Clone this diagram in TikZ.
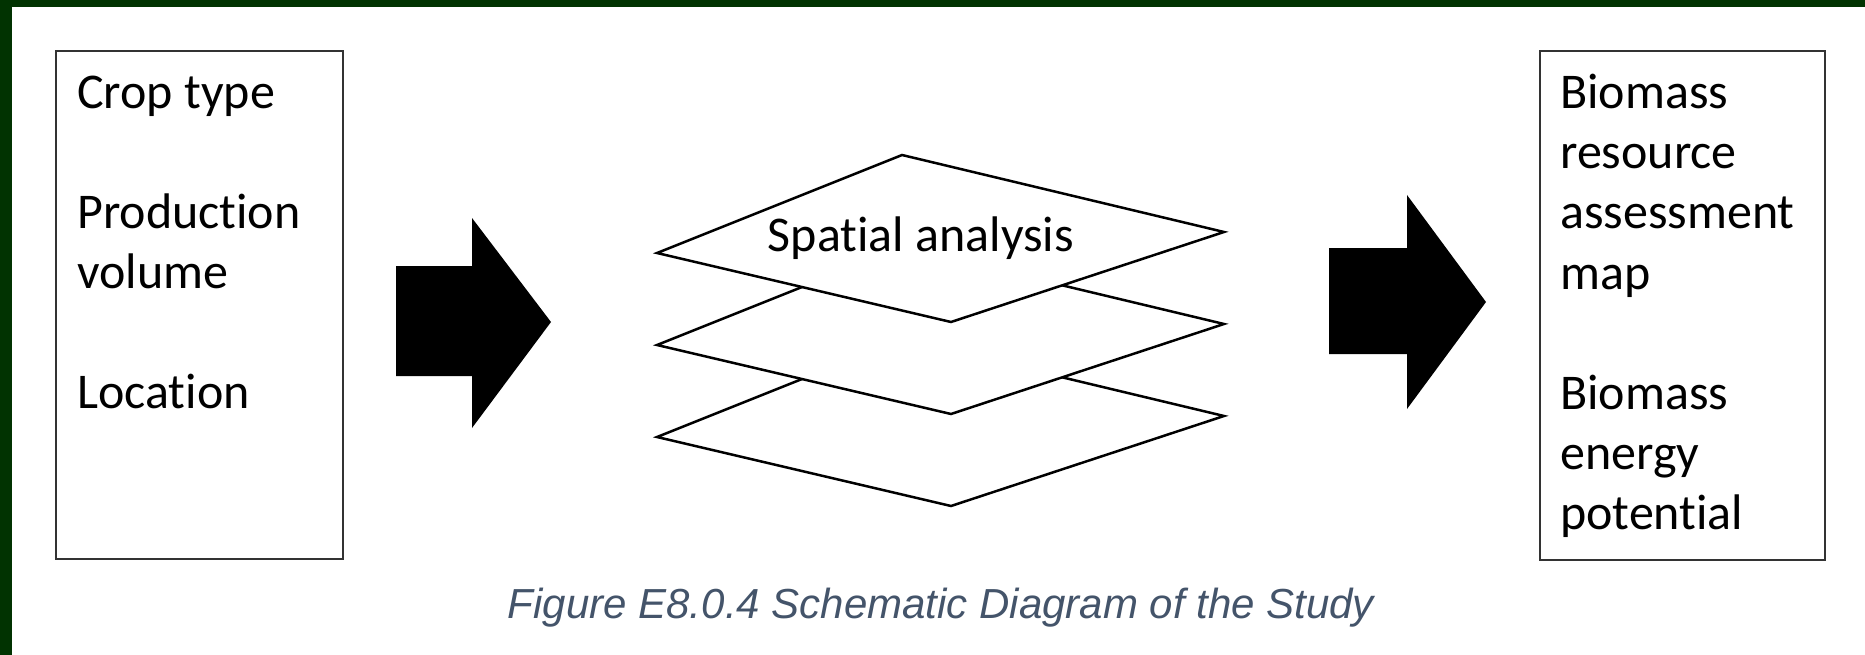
\documentclass[tikz,border=0pt]{standalone}
\usepackage{fontspec}
\setmainfont{Carlito}[Ligatures={NoCommon}]
\newfontfamily\capfont{Liberation Sans}
\definecolor{framegreen}{RGB}{1,51,1}
\definecolor{capcolor}{HTML}{44546A}
\begin{document}
\begin{tikzpicture}[x=1pt,y=-1pt,
  boxstyle/.style={draw=black!80, line width=2pt, fill=white, inner sep=0pt, anchor=north west},
  txt/.style={anchor=base west, inner sep=0pt, font=\fontsize{50}{60}\selectfont},
  layer/.style={draw=black, line width=2.5pt, fill=white, line join=miter},
  blockarrow/.style={fill=black, draw=none}]
\useasboundingbox (0,0) rectangle (1865,655);
\fill[white] (0,0) rectangle (1865,655);
\fill[framegreen] (0,0) rectangle (1865,7);
\fill[framegreen] (0,0) rectangle (12,655);
% input box
\node[boxstyle, minimum width=287pt, minimum height=508pt] (inbox) at (55,50) {};
\node[txt] (croptype) at (77,109) {Crop type};
\node[txt] (production) at (77,228) {Production};
\node[txt] (volume) at (77,288) {volume};
\node[txt] (location) at (77,408) {Location};
% output box
\node[boxstyle, minimum width=285pt, minimum height=509pt] (outbox) at (1539,50) {};
\node[txt] (biomassa) at (1560,109) {Biomass};
\node[txt] (resource) at (1560,169) {resource};
\node[txt] (assessment) at (1560,229) {assessment};
\node[txt] (map) at (1560,289) {map};
\node[txt] (biomassb) at (1560,409) {Biomass};
\node[txt] (energy) at (1560,469) {energy};
\node[txt] (potential) at (1560,529) {potential};
% block arrows
\fill[blockarrow] (396,266) -- (472,266) -- (472,218) -- (551,322) -- (472,428) -- (472,376) -- (396,376) -- cycle;
\fill[blockarrow] (1329,248) -- (1407,248) -- (1407,195) -- (1486,302) -- (1407,409) -- (1407,354) -- (1329,354) -- cycle;
% layers
\foreach \dy in {184,92,0}{
  \filldraw[layer] (902,{155+\dy}) -- (1224,{232+\dy}) -- (951,{322+\dy}) -- (657,{253+\dy}) -- cycle;
}
\node[txt, anchor=base] (spatial) at (921,251) {Spatial analysis};
% caption
\node[anchor=base, inner sep=0pt, font=\capfont\itshape\fontsize{42}{48}\selectfont, text=capcolor] (caption) at (941,618) {Figure E8.0.4 Schematic Diagram of the Study};
\end{tikzpicture}
\end{document}
